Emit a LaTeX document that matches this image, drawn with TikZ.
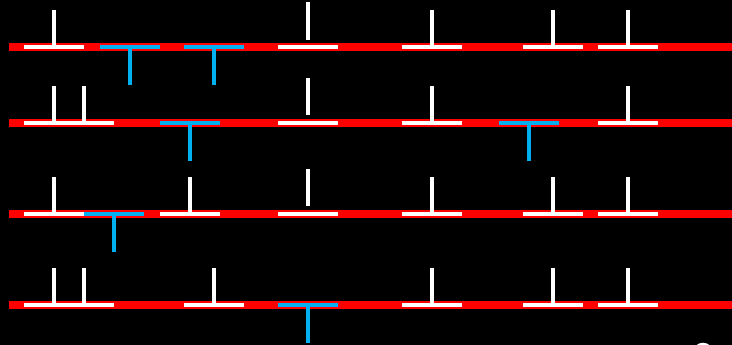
\documentclass[tikz,border=0pt]{standalone}
\definecolor{tblue}{RGB}{0,176,240}
\tikzset{
  redline/.style={draw=red, line width=8pt},
  wbarst/.style={draw=white, line width=4pt},
  wstemst/.style={draw=white, line width=3.5pt},
  bbarst/.style={draw=tblue, line width=4pt},
  bstemst/.style={draw=tblue, line width=4pt},
}
% white T: center x, row y, half width
\newcommand{\wTee}[3]{\draw[wbarst] (#1-#3,#2) -- (#1+#3,#2);\draw[wstemst] (#1,#2) -- (#1,#2-37);}
\newcommand{\wStem}[2]{\draw[wstemst] (#1,#2) -- (#1,#2-37);}
\newcommand{\wElev}[2]{\draw[wbarst] (#1-30,#2) -- (#1+30,#2);\draw[wstemst] (#1,#2-7.5) -- (#1,#2-45);}
\newcommand{\bTee}[2]{\draw[bbarst] (#1-30,#2) -- (#1+30,#2);\draw[bstemst] (#1,#2) -- (#1,#2+38);}
\begin{document}
\begin{tikzpicture}[x=1pt,y=-1pt]
\fill[black] (0,0) rectangle (732,345);
\useasboundingbox (0,0) rectangle (732,345);
\begin{scope}
\clip (0,0) rectangle (732,345);
% red lines
\foreach \yy in {47.3,123,213.8,304.7} {\draw[redline] (9,\yy) -- (732,\yy);}
% Row 1
\def\ya{47.3}
\wTee{54}{\ya}{30}
\bTee{130}{\ya}
\bTee{214}{\ya}
\wElev{308}{\ya}
\wTee{432}{\ya}{30}
\wTee{553}{\ya}{30}
\wTee{628}{\ya}{30}
% Row 2
\def\yb{123}
\draw[wbarst] (24,\yb) -- (114,\yb);\wStem{54}{\yb}\wStem{84}{\yb}
\bTee{190}{\yb}
\wElev{308}{\yb}
\wTee{432}{\yb}{30}
\bTee{529}{\yb}
\wTee{628}{\yb}{30}
% Row 3
\def\yc{213.8}
\wTee{54}{\yc}{30}
\bTee{114}{\yc}
\wTee{190}{\yc}{30}
\wElev{308}{\yc}
\wTee{432}{\yc}{30}
\wTee{553}{\yc}{30}
\wTee{628}{\yc}{30}
% Row 4
\def\yd{304.7}
\draw[wbarst] (24,\yd) -- (114,\yd);\wStem{54}{\yd}\wStem{84}{\yd}
\wTee{214}{\yd}{30}
\bTee{308}{\yd}
\wTee{432}{\yd}{30}
\wTee{553}{\yd}{30}
\wTee{628}{\yd}{30}
% partial logo bottom right
\draw[white, line width=2.5pt] (703,353) circle (9);
\end{scope}
\end{tikzpicture}
\end{document}
